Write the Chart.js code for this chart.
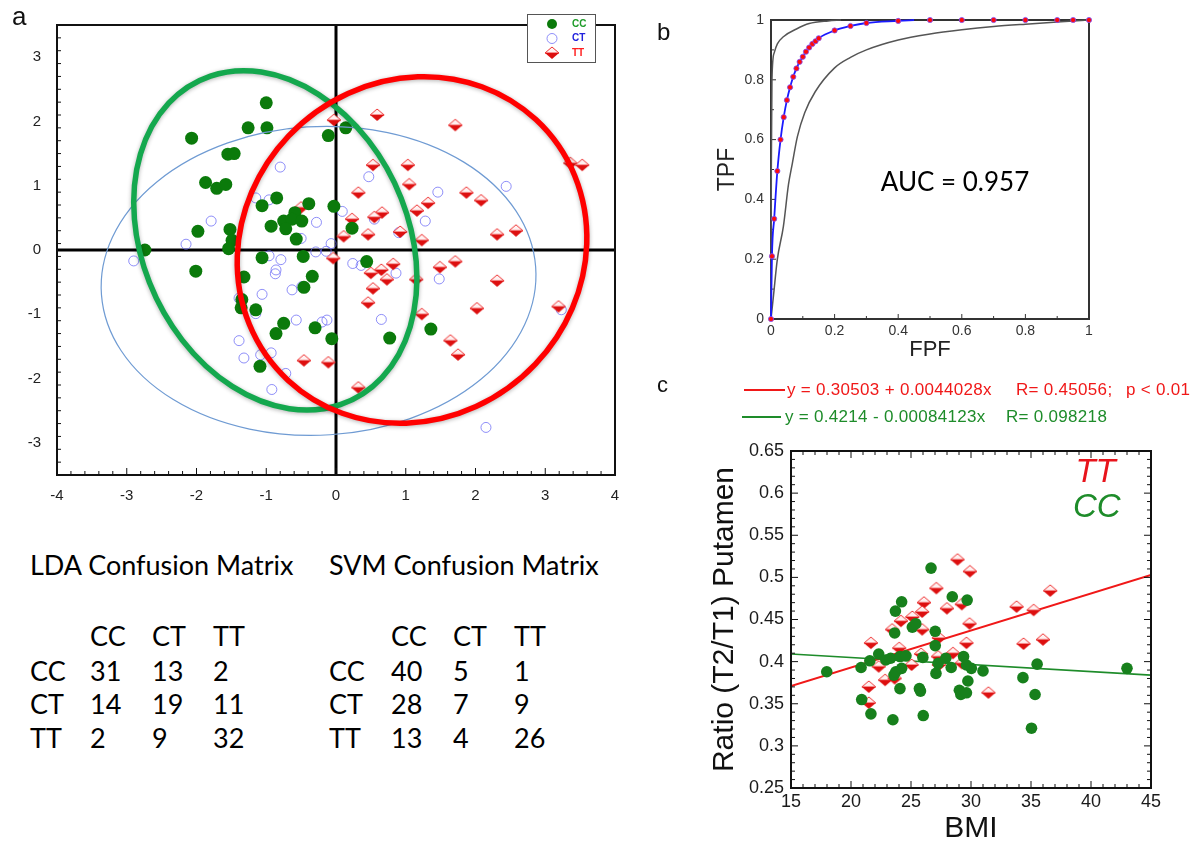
<!DOCTYPE html>
<html>
<head>
<meta charset="utf-8">
<script src="https://cdn.jsdelivr.net/npm/chart.js@4.4.1/dist/chart.umd.min.js"></script>
<style>
  html, body { margin: 0; padding: 0; background: #fff; }
  body { width: 1194px; height: 844px; position: relative; overflow: hidden; font-family: 'Liberation Sans', Arial, sans-serif; }
  canvas { position: absolute; }
  .lbl { position: absolute; line-height: 1; white-space: nowrap; color: #111; }
  .cm { position: absolute; font-family: Lato, 'Open Sans', sans-serif; font-size: 27px; line-height: 30px; color: #000; white-space: nowrap; }
</style>
</head>
<body>
<canvas id="ldaChart" width="640" height="520" style="left:0;top:0"></canvas>
<canvas id="rocChart" width="554" height="370" style="left:640px;top:0"></canvas>
<canvas id="bmiChart" width="554" height="474" style="left:640px;top:370px"></canvas>
<div class="lbl" style="left:12px;top:3px;font-size:26px">a</div>
<div class="lbl" style="left:657px;top:20px;font-size:24px">b</div>
<div class="lbl" style="left:657px;top:374px;font-size:22px">c</div>
<div id="matrices"></div>
<script>
// ---- panel a: discriminant scores by genotype ----
const ldaCC = [[-1.0,2.29],[-1.26,1.9],[-0.99,1.9],[-2.07,1.74],[-1.55,1.49],[-1.46,1.5],[-1.87,1.05],[-1.71,0.96],
  [-1.58,1.02],[-0.85,0.81],[-1.06,0.69],[-0.39,0.72],[-0.59,0.58],[-0.75,0.45],[-0.63,0.48],[-0.49,0.45],
  [-0.72,0.33],[-0.93,0.37],[-1.98,0.29],[-1.52,0.32],[-1.49,0.15],[-0.57,0.17],[-1.54,0.02],[-2.74,0.0],
  [-1.06,-0.12],[-0.47,-0.1],[-0.11,1.78],[0.14,1.9],[-0.03,0.68],[0.23,0.34],[0.44,-0.18],[-2.01,-0.33],
  [-1.32,-0.42],[-0.34,-0.41],[-0.46,-0.58],[-1.35,-0.77],[-1.36,-0.9],[-1.15,-0.93],[-0.75,-1.14],[-0.86,-1.3],
  [-0.3,-1.21],[-1.09,-1.81],[-0.06,-1.38],[0.77,-1.37],[1.36,-1.23]];
const ldaCT = [[-0.8,1.29],[-1.79,0.45],[-2.15,0.09],[-1.15,0.81],[-0.96,0.78],[-0.28,0.43],[-0.5,0.18],[-2.9,-0.17],
  [-0.96,-0.09],[-0.79,-0.15],[-0.29,-0.03],[-0.14,-0.02],[-0.07,0.1],[-0.86,-0.31],[-0.87,-0.37],[-0.63,-0.62],
  [-0.49,-0.57],[-1.06,-0.69],[-1.39,-0.75],[-1.15,-0.99],[-0.57,-1.09],[-0.2,-1.12],[-0.13,-1.09],[-1.39,-1.41],
  [-1.32,-1.68],[-1.08,-1.63],[-0.93,-1.6],[-0.92,-2.17],[-0.72,-1.92],[0.24,-0.21],[0.36,-0.24],[0.86,-0.36],
  [1.48,-0.45],[0.65,-1.08],[2.15,-2.76],[3.23,-0.93],[0.47,1.14],[1.46,0.9],[2.44,0.99],[1.28,0.45],
  [0.55,0.48],[0.09,0.6],[0.9,0.27]];
const ldaTT = [[0.59,2.1],[-0.03,2.02],[1.71,1.94],[3.36,1.35],[3.53,1.32],[0.53,1.32],[1.03,1.32],[1.05,1.02],
  [0.32,0.89],[1.87,0.89],[2.08,0.77],[1.32,0.73],[1.16,0.61],[0.66,0.58],[0.55,0.51],[0.23,0.48],
  [-0.5,0.66],[0.11,0.21],[0.46,0.24],[0.92,0.28],[1.23,0.15],[2.31,0.24],[2.58,0.3],[-0.04,-0.13],
  [0.82,-0.22],[0.65,-0.31],[0.5,-0.36],[1.49,-0.27],[1.71,-0.18],[0.73,-0.46],[1.15,-0.46],[2.31,-0.48],
  [0.53,-0.6],[0.46,-0.82],[1.23,-1.0],[2.02,-0.91],[3.19,-0.88],[1.64,-1.41],[1.75,-1.63],[-0.46,-1.72],
  [-0.11,-1.75],[0.32,-2.14]];
// confidence ellipses: centre, semi-axes (data units), rotation in degrees
const ellipseCT = { cx: -0.25, cy: -0.48, rx: 3.12, ry: 2.40, rot: 4 };
const ellipseCC = { cx: -0.87, cy: 0.15, rx: 1.92, ry: 2.72, rot: 20 };
const ellipseTT = { cx: 1.09, cy: 0.0, rx: 2.47, ry: 2.73, rot: -21.5 };
const ldaXTicks = [-4, -3, -2, -1, 0, 1, 2, 3, 4];
const ldaYTicks = [-3, -2, -1, 0, 1, 2, 3];
const genotypes = ['CC', 'CT', 'TT'];

// ---- panel b: ROC ----
const rocFpf = [0,0.003,0.01,0.02,0.03,0.04,0.05,0.06,0.07,0.08,0.09,0.1,0.11,0.12,0.13,0.14,0.15,0.2,0.25,0.3,0.4,0.5,0.6,0.7,0.8,0.9,0.95,1];
const rocTpf = [0,0.21,0.335,0.495,0.6,0.675,0.732,0.775,0.81,0.838,0.86,0.877,0.894,0.908,0.92,0.929,0.939,0.965,0.98,0.99,0.997,1,1,1,1,1,1,1];
const rocFitEnd = [0.45, 1];
const rocUpper = [[0,0],[0.001,0.5],[0.003,0.8],[0.01,0.89],[0.02,0.92],[0.04,0.945],[0.08,0.97],[0.12,0.988],[0.18,0.997],[0.22,1]];
const rocLower = [[0,0],[0.008,0.08],[0.02,0.2],[0.039,0.31],[0.055,0.45],[0.067,0.52],[0.083,0.61],[0.106,0.69],
  [0.139,0.76],[0.2,0.84],[0.25,0.875],[0.3,0.9],[0.4,0.933],[0.5,0.953],[0.6,0.967],[0.7,0.978],[0.8,0.986],[0.9,0.993],[1,1]];
const rocTicks = [0, 0.2, 0.4, 0.6, 0.8, 1];

// ---- panel c: BMI vs putamen T2/T1 ----
const bmiCC = [[17.98,0.388],[20.84,0.393],[21.57,0.401],[22.31,0.409],[20.89,0.355],[21.66,0.338],[23.49,0.331],
  [22.9,0.402],[23.3,0.404],[24.08,0.406],[24.58,0.407],[23.58,0.384],[23.73,0.388],[24.22,0.392],[24.08,0.368],
  [23.64,0.434],[23.7,0.46],[24.22,0.471],[25.11,0.441],[25.4,0.445],[25.7,0.368],[25.79,0.365],[26.02,0.336],
  [25.99,0.405],[26.67,0.511],[27.02,0.436],[27.02,0.419],[27.08,0.386],[27.26,0.398],[28.44,0.477],[27.9,0.404],
  [28.35,0.393],[29.38,0.406],[29.62,0.396],[29.68,0.473],[29.74,0.377],[29.03,0.366],[29.15,0.361],[29.62,0.363],
  [30.03,0.392],[31.0,0.389],[34.33,0.381],[35.04,0.321],[35.34,0.361],[35.51,0.397],[43.0,0.392]];
const bmiTT = [[28.88,0.521],[29.91,0.507],[27.11,0.487],[36.6,0.484],[26.08,0.47],[29.23,0.468],[27.99,0.463],
  [33.8,0.465],[35.22,0.461],[25.11,0.453],[25.93,0.459],[24.16,0.448],[23.43,0.438],[25.93,0.438],[29.88,0.445],
  [27.32,0.428],[21.66,0.422],[24.02,0.416],[29.62,0.422],[34.38,0.421],[36.0,0.426],[25.84,0.409],[27.26,0.406],
  [28.5,0.41],[22.31,0.394],[25.05,0.396],[27.32,0.396],[29.23,0.398],[22.84,0.378],[23.64,0.38],[21.48,0.37],
  [21.48,0.351],[31.45,0.363]];
const bmiFitTT = [[15,0.371],[45,0.503]];
const bmiFitCC = [[15,0.409],[45,0.384]];
const eqTT = ['y = 0.30503 + 0.0044028x', 'R= 0.45056;', 'p < 0.01'];
const eqCC = ['y = 0.4214 - 0.00084123x', 'R= 0.098218'];
const bmiXTicks = [15, 20, 25, 30, 35, 40, 45];
const bmiYTicks = [0.25, 0.3, 0.35, 0.4, 0.45, 0.5, 0.55, 0.6, 0.65];

// ---- confusion matrices ----
const ldaMatrix = [[31, 13, 2], [14, 19, 11], [2, 9, 32]];
const svmMatrix = [[40, 5, 1], [28, 7, 9], [13, 4, 26]];

const FONT = "'Liberation Sans', Arial, sans-serif";
const mk = pairs => pairs.map(([x, y]) => ({ x, y }));
const fixedTicks = list => s => { s.ticks = list.map(v => ({ value: v })); };

// half-open diamond marker: pale top, solid red bottom
function diamond(w, h) {
  const c = document.createElement('canvas');
  c.width = w + 2; c.height = h + 2;
  const g = c.getContext('2d');
  const cx = c.width / 2, cy = c.height / 2;
  g.beginPath(); g.moveTo(cx - w / 2, cy); g.lineTo(cx, cy - h / 2); g.lineTo(cx + w / 2, cy); g.closePath();
  g.fillStyle = '#fff1f1'; g.fill();
  g.strokeStyle = '#ee3030'; g.lineWidth = 1; g.stroke();
  g.beginPath(); g.moveTo(cx - w / 2, cy); g.lineTo(cx + w / 2, cy); g.lineTo(cx, cy + h / 2); g.closePath();
  g.fillStyle = '#dd0f0f'; g.fill();
  return c;
}
const diamondA = diamond(14, 12);
const diamondC = diamond(14, 12);

// frame around the plot area with inward tick marks
function framePlugin(spec) {
  const draw = chart => {
    const { ctx, chartArea: a, scales } = chart;
    ctx.save();
    ctx.strokeStyle = spec.color;
    ctx.lineWidth = 1;
    const marks = (axis, step, major, fn) => {
      const sc = scales[axis];
      const n = Math.round((sc.max - sc.min) / step);
      for (let i = 0; i <= n; i++) {
        const v = sc.min + i * step;
        const isMajor = Math.abs(v / major - Math.round(v / major)) < 1e-6;
        fn(sc.getPixelForValue(v), isMajor ? spec.majorLen : spec.minorLen);
      }
    };
    ctx.beginPath();
    marks('x', spec.xMinor, spec.xMajor, (p, len) => {
      if (spec.sides.includes('bottom')) { ctx.moveTo(p, a.bottom); ctx.lineTo(p, a.bottom - len); }
      if (spec.sides.includes('top')) { ctx.moveTo(p, a.top); ctx.lineTo(p, a.top + len); }
    });
    marks('y', spec.yMinor, spec.yMajor, (p, len) => {
      if (spec.sides.includes('left')) { ctx.moveTo(a.left, p); ctx.lineTo(a.left + len, p); }
      if (spec.sides.includes('right')) { ctx.moveTo(a.right, p); ctx.lineTo(a.right - len, p); }
    });
    ctx.stroke();
    ctx.lineWidth = spec.width;
    ctx.strokeRect(a.left, a.top, a.right - a.left, a.bottom - a.top);
    ctx.restore();
  };
  return spec.under ? { id: 'frame', beforeDatasetsDraw: draw } : { id: 'frame', afterDatasetsDraw: draw };
}

function axisOpts(ticksList, min, max, size, fontSize, padding, color) {
  return {
    type: 'linear', min, max,
    afterBuildTicks: fixedTicks(ticksList),
    afterFit: s => { if (s.isHorizontal()) s.height = size; else s.width = size; },
    grid: { display: false, drawTicks: false },
    border: { display: false },
    ticks: { callback: v => String(v), font: { family: FONT, size: fontSize }, color, padding, autoSkip: false, maxRotation: 0 }
  };
}

const baseOpts = {
  responsive: false, animation: false, events: [],
  plugins: { legend: { display: false }, tooltip: { enabled: false } }
};

// ---------------- panel a ----------------
const ellipseStyles = [
  { e: ellipseCT, color: '#6f9bd3', width: 1.2, shadow: 0 },
  { e: ellipseCC, color: '#14a84e', width: 5.5, shadow: 4 },
  { e: ellipseTT, color: '#ff0000', width: 5.5, shadow: 4 }
];

new Chart(document.getElementById('ldaChart'), {
  type: 'scatter',
  data: {
    datasets: [
      { label: 'CC', data: mk(ldaCC), pointStyle: 'circle', pointRadius: 6.5, backgroundColor: '#0b7a0b', borderWidth: 0, order: 1 },
      { label: 'CT', data: mk(ldaCT), pointStyle: 'circle', pointRadius: 5, backgroundColor: 'rgba(0,0,0,0)', borderColor: 'rgba(105,105,245,0.75)', borderWidth: 1, order: 3 },
      { label: 'TT', data: mk(ldaTT), pointStyle: diamondA, pointRadius: 6, order: 2 }
    ]
  },
  options: {
    ...baseOpts,
    layout: { padding: { left: 0, right: 25, top: 9, bottom: 0 } },
    scales: {
      x: axisOpts(ldaXTicks, -4, 4, 45, 15, 12, '#222'),
      y: axisOpts(ldaYTicks, -3.5, 3.5, 57, 15, 16, '#222')
    }
  },
  plugins: [
    {
      id: 'zeroLines',
      beforeDatasetsDraw(chart) {
        const { ctx, chartArea: a, scales: { x, y } } = chart;
        ctx.save();
        ctx.strokeStyle = '#000'; ctx.lineWidth = 3;
        ctx.beginPath();
        ctx.moveTo(x.getPixelForValue(0), a.top); ctx.lineTo(x.getPixelForValue(0), a.bottom);
        ctx.moveTo(a.left, y.getPixelForValue(0)); ctx.lineTo(a.right, y.getPixelForValue(0));
        ctx.stroke();
        ctx.restore();
      }
    },
    {
      id: 'ellipses',
      afterDatasetsDraw(chart) {
        const { ctx, scales: { x, y } } = chart;
        const sx = x.getPixelForValue(1) - x.getPixelForValue(0);
        const sy = y.getPixelForValue(0) - y.getPixelForValue(1);
        ellipseStyles.forEach(({ e, color, width, shadow }) => {
          ctx.save();
          ctx.save();
          ctx.translate(x.getPixelForValue(e.cx), y.getPixelForValue(e.cy));
          ctx.scale(sx, -sy);
          ctx.rotate(e.rot * Math.PI / 180);
          ctx.beginPath();
          ctx.ellipse(0, 0, e.rx, e.ry, 0, 0, Math.PI * 2);
          ctx.restore();
          if (shadow) { ctx.shadowColor = 'rgba(0,0,0,0.3)'; ctx.shadowBlur = shadow; ctx.shadowOffsetY = 1; }
          ctx.strokeStyle = color; ctx.lineWidth = width;
          ctx.stroke();
          ctx.restore();
        });
      }
    },
    framePlugin({ color: '#111', width: 2, sides: ['left', 'bottom'], xMajor: 1, xMinor: 0.2, yMajor: 1, yMinor: 0.2, majorLen: 7, minorLen: 4 }),
    {
      id: 'boxLegend',
      afterDraw(chart) {
        const ctx = chart.ctx;
        const colors = ['#1f9c2a', '#2222dd', '#ff2020'];
        ctx.save();
        ctx.fillStyle = '#fff';
        ctx.fillRect(527, 14, 68, 48);
        ctx.strokeStyle = '#555'; ctx.lineWidth = 1;
        ctx.strokeRect(527.5, 14.5, 68, 48);
        genotypes.forEach((g, i) => {
          const yy = 24 + i * 14.5;
          if (i === 0) { ctx.beginPath(); ctx.arc(552, yy, 5, 0, Math.PI * 2); ctx.fillStyle = '#0b7a0b'; ctx.fill(); }
          if (i === 1) { ctx.beginPath(); ctx.arc(552, yy, 5, 0, Math.PI * 2); ctx.strokeStyle = 'rgba(105,105,245,0.75)'; ctx.stroke(); }
          if (i === 2) ctx.drawImage(diamondA, 552 - diamondA.width / 2, yy - diamondA.height / 2);
          ctx.fillStyle = colors[i];
          ctx.font = `bold 10px ${FONT}`;
          ctx.textBaseline = 'middle';
          ctx.fillText(g, 572, yy);
        });
        ctx.restore();
      }
    }
  ]
});

// ---------------- panel b ----------------
const rocPoints = rocFpf.map((x, i) => ({ x, y: rocTpf[i] }));
const rocFit = rocPoints.filter(p => p.x < rocFitEnd[0]).concat([{ x: rocFitEnd[0], y: rocFitEnd[1] }]);

new Chart(document.getElementById('rocChart'), {
  type: 'scatter',
  data: {
    datasets: [
      { data: rocPoints, pointRadius: 2.6, backgroundColor: '#ff0a0a', borderColor: '#7a50ff', borderWidth: 0.8, clip: false, order: 1 },
      { data: rocFit, showLine: true, pointRadius: 0, borderColor: '#1a1aff', borderWidth: 1.8, clip: false, cubicInterpolationMode: 'monotone', order: 2 },
      { data: mk(rocUpper), showLine: true, pointRadius: 0, borderColor: '#555', borderWidth: 1.5, clip: false, cubicInterpolationMode: 'monotone', order: 3 },
      { data: mk(rocLower), showLine: true, pointRadius: 0, borderColor: '#555', borderWidth: 1.5, clip: false, cubicInterpolationMode: 'monotone', order: 3 }
    ]
  },
  options: {
    ...baseOpts,
    layout: { padding: { left: 0, right: 105, top: 20, bottom: 0 } },
    scales: {
      x: { ...axisOpts(rocTicks, 0, 1, 51, 14, 4, '#333'),
        title: { display: true, text: 'FPF', font: { family: FONT, size: 22, lineHeight: 1 }, color: '#222', padding: { top: 0, bottom: 9 } } },
      y: { ...axisOpts(rocTicks, 0, 1, 131, 14, 7, '#333'),
        title: { display: true, text: 'TPF', font: { family: FONT, size: 23, lineHeight: 1 }, color: '#222', padding: { top: 76, bottom: 0 } } }
    }
  },
  plugins: [
    framePlugin({ under: true, color: '#333', width: 2, sides: ['left', 'bottom'], xMajor: 0.2, xMinor: 0.1, yMajor: 0.2, yMinor: 0.1, majorLen: 5, minorLen: 3 }),
    {
      id: 'auc',
      afterDraw(chart) {
        const { ctx, scales: { x, y } } = chart;
        ctx.save();
        ctx.font = `26px Lato, 'Open Sans', sans-serif`;
        ctx.fillStyle = '#000';
        ctx.textBaseline = 'middle';
        ctx.fillText('AUC = 0.957', x.getPixelForValue(0.345), y.getPixelForValue(0.455));
        ctx.restore();
      }
    }
  ]
});

// ---------------- panel c ----------------
new Chart(document.getElementById('bmiChart'), {
  type: 'scatter',
  data: {
    datasets: [
      { data: mk(bmiCC), pointStyle: 'circle', pointRadius: 5.8, backgroundColor: '#17801c', borderWidth: 0, order: 1 },
      { data: mk(bmiTT), pointStyle: diamondC, pointRadius: 6, order: 2 },
      { data: mk(bmiFitTT), showLine: true, pointRadius: 0, borderColor: '#f01818', borderWidth: 2, order: 3 },
      { data: mk(bmiFitCC), showLine: true, pointRadius: 0, borderColor: '#1e8c2a', borderWidth: 1.6, order: 3 }
    ]
  },
  options: {
    ...baseOpts,
    layout: { padding: { left: 0, right: 43, top: 81, bottom: 0 } },
    scales: {
      x: { ...axisOpts(bmiXTicks, 15, 45, 56, 18, 3, '#1a1a1a'),
        title: { display: true, text: 'BMI', font: { family: FONT, size: 30, lineHeight: 1 }, color: '#111', padding: { top: 0, bottom: 0 } } },
      y: { ...axisOpts(bmiYTicks, 0.25, 0.65, 151, 18, 7, '#1a1a1a'),
        title: { display: true, text: 'Ratio (T2/T1) Putamen', font: { family: FONT, size: 30, lineHeight: 1 }, color: '#111', padding: { top: 70, bottom: 0 } } }
    }
  },
  plugins: [
    framePlugin({ color: '#111', width: 2, sides: ['left', 'bottom', 'top', 'right'], xMajor: 5, xMinor: 1, yMajor: 0.05, yMinor: 0.01, majorLen: 7, minorLen: 4 }),
    {
      id: 'labels',
      afterDraw(chart) {
        const { ctx, scales: { x, y } } = chart;
        ctx.save();
        ctx.font = `italic 33px ${FONT}`;
        ctx.textBaseline = 'middle';
        ctx.fillStyle = '#e8141c';
        ctx.fillText('TT', x.getPixelForValue(38.7), y.getPixelForValue(0.624));
        ctx.fillStyle = '#1e8c2a';
        ctx.fillText('CC', x.getPixelForValue(38.5), y.getPixelForValue(0.582));
        // regression equations above the plot
        ctx.font = `17px ${FONT}`;
        ctx.letterSpacing = '0.3px';
        const rows = [
          { parts: eqTT, xs: [147, 376, 486], y: 20, seg: [104, 145], color: '#f01818' },
          { parts: eqCC, xs: [145, 366], y: 47, seg: [102, 141], color: '#1e8c2a' }
        ];
        rows.forEach(r => {
          ctx.strokeStyle = r.color; ctx.lineWidth = 1.8;
          ctx.beginPath(); ctx.moveTo(r.seg[0], r.y); ctx.lineTo(r.seg[1], r.y); ctx.stroke();
          ctx.fillStyle = r.color;
          r.parts.forEach((t, i) => ctx.fillText(t, r.xs[i], r.y));
        });
        ctx.restore();
      }
    }
  ]
});

// ---------------- confusion matrices ----------------
function matrixBlock(title, m, left, cols) {
  const host = document.getElementById('matrices');
  const put = (text, x, cy) => {
    const d = document.createElement('div');
    d.className = 'cm';
    d.textContent = text;
    d.style.left = x + 'px';
    d.style.top = (cy - 15) + 'px';
    host.appendChild(d);
  };
  put(title, left, 565);
  genotypes.forEach((g, j) => put(g, cols[j], 636));
  const rowY = [671, 704, 738];
  m.forEach((row, i) => {
    put(genotypes[i], left, rowY[i]);
    row.forEach((v, j) => put(String(v), cols[j], rowY[i]));
  });
}
matrixBlock('LDA Confusion Matrix', ldaMatrix, 30, [90, 152, 213]);
matrixBlock('SVM Confusion Matrix', svmMatrix, 329, [391, 453, 514]);
</script>
</body>
</html>
